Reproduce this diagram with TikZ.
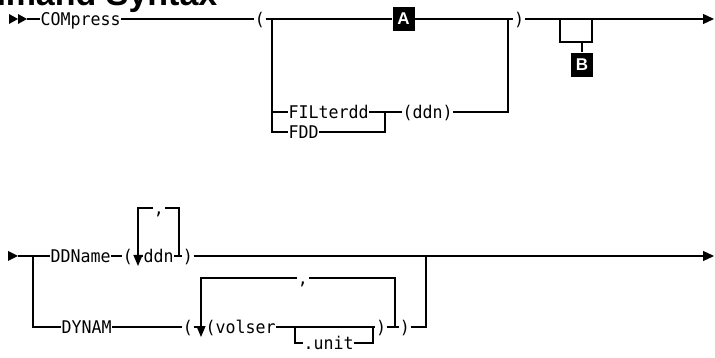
\documentclass[tikz,border=0pt]{standalone}
\usepackage{fontspec}
\setmonofont[FakeStretch=0.95]{DejaVu Sans Mono}
\newfontfamily\headfont{Liberation Sans}
\usetikzlibrary{arrows.meta}
\begin{document}
\begin{tikzpicture}[x=1pt,y=-1pt,line width=1.2pt,
  t/.style={font=\ttfamily\fontsize{17.5}{20}\selectfont,inner sep=0pt,text height=12.5pt,text depth=0pt,anchor=west},
  tc/.style={t,anchor=center},
  lbl/.style={fill=black,text=white,font=\headfont\bfseries\fontsize{17}{20}\selectfont,minimum width=22pt,minimum height=24pt,inner sep=0pt},
  arr/.style={-{Triangle[length=11pt,width=10pt]}},
  darr/.style={-{Triangle[length=11pt,width=9pt]}}]
\useasboundingbox (0,0) rectangle (715,358);
% heading (clipped at the top)
\node[font=\headfont\bfseries\fontsize{34}{40}\selectfont,anchor=base east,inner sep=0pt,text depth=0pt] (head) at (218,5.5) {Command Syntax};
% ---------- top diagram ----------
\fill (9,14) -- (18,19) -- (9,24) -- cycle;
\fill (18,14) -- (27,19) -- (18,24) -- cycle;
\coordinate (s1) at (27,19);
\node[t] (compress) at (40,19) {COMpress};
\node[tc] (lp1) at (260,19) {(};
\coordinate (j1) at (272,19);
\coordinate (j1a) at (272,112);
\coordinate (j1b) at (272,132);
\node[lbl] (A) at (403.5,19) {A};
\coordinate (j2) at (508,19);
\coordinate (j2b) at (508,112);
\node[tc] (rp1) at (519,19) {)};
\coordinate (e1) at (714,19);
\coordinate (b1) at (560,19);
\coordinate (b2) at (592,19);
\coordinate (b3) at (560,42);
\coordinate (b4) at (592,42);
\coordinate (b5) at (582,42);
\node[lbl] (B) at (582,65) {B};
\node[t] (filter) at (288,112) {FILterdd};
\coordinate (j3) at (385,112);
\coordinate (j3b) at (385,132);
\node[t] (ddn1) at (402,112) {(ddn)};
\node[t] (fdd) at (288,132) {FDD};

\draw (s1) -- (compress.west);
\draw (compress.east) -- (lp1.west);
\draw (lp1.east) -- (A.west);
\draw (A.east) -- (j2) -- (rp1.west);
\draw[arr] (rp1.east) -- (e1);
\draw (b1) -- (b3) -- (b4) -- (b2);
\draw (b5) -- (B.north);
\draw (j1) -- (j1b) -- (fdd.west);
\draw (j1a) -- (filter.west);
\draw (filter.east) -- (j3) -- (ddn1.west);
\draw (ddn1.east) -- (j2b) -- (j2);
\draw (fdd.east) -- (j3b) -- (j3);
% ---------- bottom diagram ----------
\fill (8,251) -- (18,256) -- (8,261) -- cycle;
\coordinate (s2) at (18,256);
\coordinate (k1) at (33,256);
\coordinate (k1b) at (33,327);
\node[t] (ddname) at (50,256) {DDName};
\node[tc] (lp2) at (128,256) {(};
\node[t] (ddn2) at (143,256) {ddn};
\coordinate (r1) at (179,256);
\coordinate (r1t) at (179,208);
\node[tc] (c1) at (159,208) {,};
\coordinate (r1l) at (138,208);
\coordinate (r1a) at (138,266);
\node[tc] (rp2) at (188,256) {)};
\coordinate (k2) at (426,256);
\coordinate (e2) at (714,256);

\node[t] (dynam) at (61,327) {DYNAM};
\node[tc] (lp3) at (188,327) {(};
\node[t] (volser) at (205,327) {(volser};
\coordinate (v1) at (295,327);
\coordinate (v1b) at (295,343);
\node[t] (unit) at (303,343) {.unit};
\coordinate (v2) at (373,327);
\coordinate (v2b) at (373,343);
\node[tc] (rp3) at (381,327) {)};
\coordinate (r2) at (395,327);
\coordinate (r2t) at (395,278);
\node[tc] (c2) at (303,278) {,};
\coordinate (r2l) at (201,278);
\coordinate (r2a) at (201,337);
\node[tc] (rp4) at (405,327) {)};
\coordinate (k2b) at (426,327);

\draw (s2) -- (ddname.west);
\draw (k1) -- (k1b) -- (dynam.west);
\draw (ddname.east) -- (lp2.west);
\draw (lp2.east) -- (ddn2.west);
\draw (ddn2.east) -- (r1) -- (rp2.west);
\draw (r1) -- (r1t) -- (c1.east);
\draw[darr] (c1.west) -- (r1l) -- (r1a);
\draw[arr] (rp2.east) -- (k2) -- (e2);

\draw (dynam.east) -- (lp3.west);
\draw (lp3.east) -- (volser.west);
\draw (volser.east) -- (v1) -- (v2) -- (rp3.west);
\draw (v1) -- (v1b) -- (unit.west);
\draw (unit.east) -- (v2b) -- (v2);
\draw (rp3.east) -- (r2) -- (rp4.west);
\draw (r2) -- (r2t) -- (c2.east);
\draw[darr] (c2.west) -- (r2l) -- (r2a);
\draw (rp4.east) -- (k2b) -- (k2);
\end{tikzpicture}
\end{document}
